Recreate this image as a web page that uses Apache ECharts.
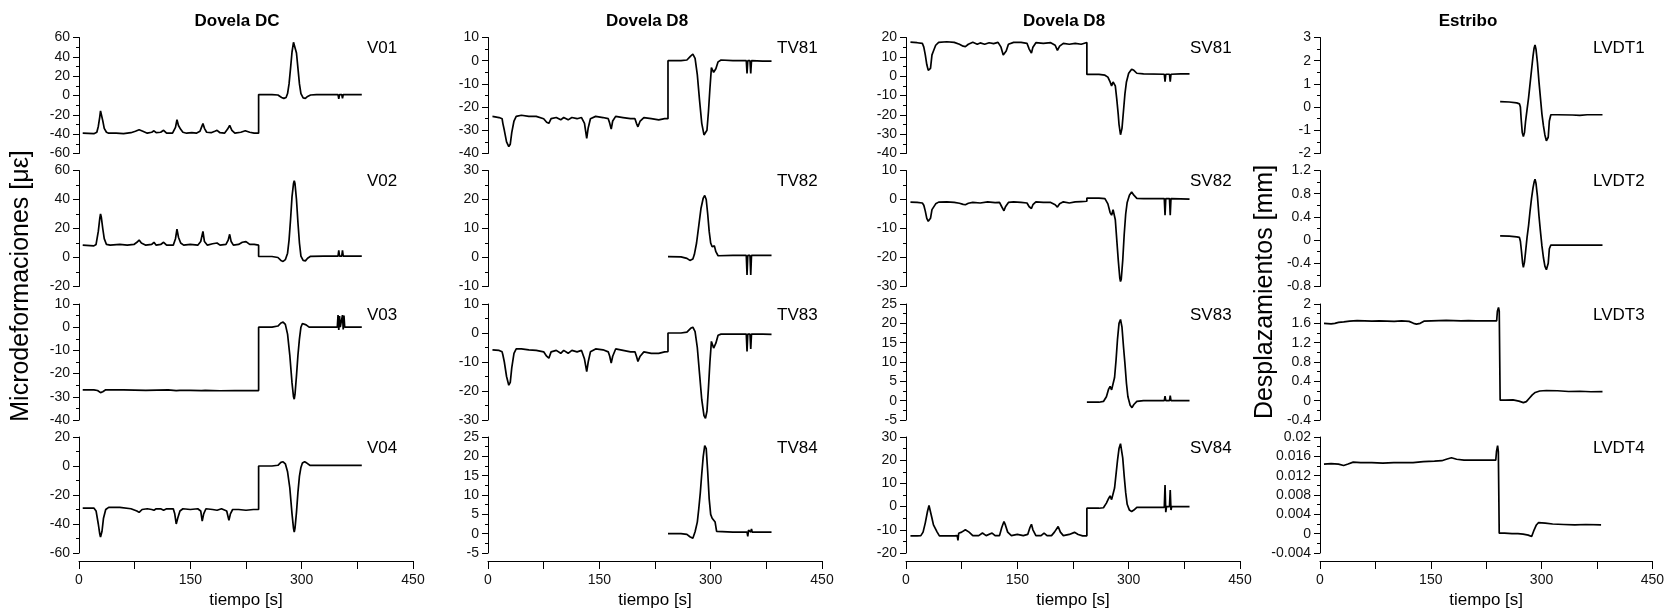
<!DOCTYPE html>
<html>
<head>
<meta charset="utf-8">
<script src="https://cdn.jsdelivr.net/npm/echarts@6/dist/echarts.min.js"></script>
<style>html,body{margin:0;padding:0;background:#fff}#c{width:1667px;height:615px}</style>
</head>
<body>
<div id="c"></div>
<script>
// ---------- DATA: [time s, value] ----------
const V01 = [[5,-39],[20,-39.5],[24,-38],[26,-32],[28,-22],[29,-16],[30,-17],[32,-26],[34,-34],[37,-38],[40,-39],[50,-39],[60,-39.5],[70,-38.5],[76,-37],[81,-35.5],[86,-37],[92,-39],[98,-38],[101,-36.5],[104,-38.5],[110,-38],[114,-36],[118,-39],[126,-39],[130,-33],[132,-25],[134,-31],[137,-35],[140,-38],[145,-39],[152,-38.5],[158,-39],[163,-37],[165,-33],[167,-29],[169,-34],[172,-38],[178,-38.5],[183,-37],[186,-36],[190,-38.5],[196,-39],[200,-35],[203,-31],[206,-36],[210,-39],[218,-38],[224,-36.5],[230,-38],[236,-39],[242,-39],[242,1],[260,1],[268,0.5],[273,-2],[276,-3],[279,-2],[281,2],[283,12],[285,28],[287,45],[289,55],[290,57],[291,55],[293,44],[295,28],[297,12],[299,2],[302,-2.5],[305,-3],[308,-1],[312,0.5],[320,1],[340,1],[349,1],[350,-3.5],[351,1],[354,1],[355,-3],[356,1],[370,1],[381,1]];
const V02 = [[5,8.5],[20,8],[23,9],[26,18],[28,27],[29,30],[30,28],[32,20],[34,13],[37,9],[42,8.5],[55,9],[65,8.5],[74,9],[78,10.5],[81,12],[84,10],[90,8.5],[98,9],[101,10.5],[104,8.5],[110,9],[114,10.5],[118,8.5],[127,8.5],[130,13],[132,19.5],[134,14],[137,10],[141,8.5],[150,9],[160,8.5],[164,11],[167,18],[169,11],[173,8.5],[180,9.5],[186,10],[190,8.5],[198,9],[201,12],[203,16],[205,11],[208,8.5],[215,9],[220,10.5],[225,11],[230,9],[236,9],[242,8.5],[242,0.7],[260,0.7],[268,0],[272,-2],[275,-2.7],[278,-1.5],[281,3],[283,12],[285,26],[287,42],[289,51],[290,53],[291,51],[293,40],[295,24],[297,10],[299,1],[302,-2],[305,-2.3],[308,-0.5],[312,0.8],[330,1],[349,1],[350,5],[351,1],[354,1],[355,5],[356,1],[370,1],[381,1]];
const V03 = [[5,-27],[20,-27],[25,-27.3],[29,-28.2],[32,-27.8],[36,-27],[60,-27],[90,-27.2],[120,-27],[131,-27.3],[133,-27.8],[136,-27.2],[150,-27.2],[165,-27.3],[167,-27.8],[170,-27.2],[190,-27.4],[210,-27.3],[230,-27.3],[242,-27.3],[242,0],[260,0],[268,0.5],[272,1.8],[275,2.2],[278,1.2],[281,-3],[284,-12],[287,-24],[289,-30],[290,-31],[291,-29],[293,-21],[295,-12],[297,-5],[299,0],[301,1.6],[303,2],[306,1],[310,0],[330,0],[348,0],[349,5.2],[350,-1.2],[351,4.8],[352,0],[354,0.5],[355,5.2],[356,-1],[357,5],[358,0],[370,0],[381,0]];
const V04 = [[5,-29],[20,-29],[23,-31],[26,-40],[28,-47],[29,-49],[31,-45],[33,-36],[36,-30],[40,-28.5],[55,-28.5],[70,-29.5],[78,-31],[81,-32],[85,-30],[92,-29.5],[98,-30],[101,-30.5],[104,-29.5],[110,-29.5],[114,-30.5],[118,-29.5],[127,-29.5],[129,-33],[131,-40],[133,-36],[136,-31],[140,-29.5],[150,-30],[160,-29.5],[164,-31],[166,-38],[168,-33],[171,-29.5],[180,-30],[186,-30.5],[192,-29.5],[199,-31],[202,-37.5],[204,-33],[207,-30],[215,-30],[225,-30.5],[235,-30],[242,-30],[242,0],[260,0],[268,0.5],[272,2.5],[275,2.9],[278,1.5],[281,-4],[284,-15],[287,-33],[289,-43],[290,-45.5],[291,-43],[293,-32],[295,-18],[297,-7],[299,-1],[301,2],[304,2.9],[307,2],[311,0.5],[330,0.5],[360,0.5],[381,0.5]];

const TV81 = [[6,-24],[15,-24.5],[19,-25],[20,-27],[22,-30],[25,-35],[28,-37],[30,-36],[32,-31],[35,-26],[38,-24],[45,-23.5],[55,-24],[65,-24],[75,-25],[79,-26.5],[82,-27],[85,-25],[92,-24.5],[98,-25.5],[102,-24.5],[108,-25.5],[113,-24.5],[120,-25],[126,-24.5],[130,-27],[133,-33.5],[135,-29],[138,-25],[145,-24],[155,-24.5],[162,-25],[164,-27],[166,-29.5],[168,-26],[172,-24],[182,-24.5],[192,-25],[198,-25],[200,-27],[202,-28.5],[205,-26],[210,-24.5],[220,-25],[230,-25.5],[238,-25],[242.5,-25],[242.5,0],[260,0],[268,0.3],[273,2],[276,2.8],[279,1],[282,-6],[285,-17],[288,-27],[291,-32],[293,-32.5],[295,-30],[297,-22],[299,-12],[301,-3],[302,-2.5],[304,-5],[307,-3.5],[310,-0.5],[314,0.3],[330,0],[348,0],[349,-5.5],[350,0],[353,0],[354,-5.5],[355,0],[370,-0.2],[382,-0.2]];
const TV82 = [[242.5,0.3],[260,0.2],[268,-0.3],[272,-1],[274,-1.4],[276,-0.5],[278,1],[281,5],[284,11],[287,17],[290,20.5],[292,21.4],[294,20],[296,15],[298,9],[300,5],[302,3.7],[305,4],[307,2],[310,0.6],[330,0.7],[348,0.7],[349,-6],[350,0.7],[353,0.7],[354,-6],[355,0.7],[370,0.7],[382,0.7]];
const TV83 = [[6,-5.8],[15,-6],[19,-6.5],[20,-7.5],[22,-10],[25,-15],[28,-18],[30,-17],[32,-12],[35,-7],[38,-5.5],[45,-5.5],[55,-5.8],[65,-6],[75,-6.5],[79,-8],[82,-8.7],[85,-6.5],[92,-6],[98,-7],[102,-6],[108,-7],[113,-6],[120,-6.5],[126,-6],[130,-9],[133,-13.3],[135,-10],[138,-6.5],[145,-5.5],[155,-5.8],[162,-6.5],[164,-8],[166,-10.4],[168,-8],[172,-5.5],[182,-6],[192,-6.5],[198,-6.5],[200,-8],[202,-9.8],[205,-8],[210,-6.5],[220,-7],[230,-7],[238,-6.5],[242.5,-6.4],[242.5,0],[260,0],[268,0.3],[273,1.6],[276,2],[279,0.5],[282,-5],[285,-14],[288,-23],[291,-28.5],[293,-29.4],[295,-27],[297,-19],[299,-10],[301,-2.9],[302,-3],[304,-5.2],[307,-3.5],[310,-0.8],[314,-0.4],[330,-0.4],[348,-0.4],[349,-6.4],[350,-0.4],[353,-0.4],[354,-5.5],[355,-0.4],[370,-0.4],[382,-0.5]];
const TV84 = [[242.5,0],[260,0],[268,-0.2],[272,-0.8],[276,-1.2],[279,0.5],[282,3],[284,6.5],[286,10.5],[288,15.5],[290,20],[292,22.8],[293,23.1],[294,22],[296,16],[298,9],[300,5],[302,4],[304,4.3],[306,3],[308,0.6],[330,0.4],[349,0.4],[350,-0.7],[351,0.9],[354,0.4],[355,1.2],[356,0.4],[370,0.4],[382,0.4]];

const SV81 = [[6,17.6],[15,17.3],[22,17],[24,15],[26,11],[28,6],[30,3],[32,2.4],[33,4],[35,11],[37,13],[40,16],[44,17.5],[55,17.8],[65,17.5],[72,16.5],[77,15.5],[80,15.3],[84,16.5],[90,17.5],[96,16.5],[100,17.2],[106,16.5],[112,17.3],[118,16.8],[124,17.5],[128,15],[131,11],[133,10.2],[135,13],[138,16.5],[145,17.5],[155,17.5],[163,17],[166,14],[169,11.9],[171,15],[175,17.3],[185,17],[195,17.3],[201,16],[204,13.3],[207,15.5],[212,17],[220,16.5],[228,17],[236,16.5],[243.7,17.4],[243.7,0.9],[260,0.9],[268,0.5],[272,-0.5],[275,-3],[277,-5],[279,-3],[280,-2],[282,-5],[284,-12],[286,-20],[287,-25],[289,-30.3],[291,-27],[293,-18],[295,-9],[297,-3],[300,1.5],[304,3.6],[307,3],[311,1.5],[320,1.2],[348,1],[349,-2.8],[350,1],[355,1],[356,-2.8],[357,1],[370,1.2],[382,1.2]];
const SV82 = [[6,-0.9],[15,-1],[22,-1.2],[24,-2],[26,-4],[28,-6.5],[30,-7.5],[32,-7.7],[33,-6.5],[35,-3.5],[37,-3],[40,-1.5],[44,-0.9],[55,-0.8],[65,-1],[72,-1.3],[77,-1.7],[80,-1.8],[84,-1.3],[90,-1],[100,-1.2],[110,-0.8],[120,-1.1],[126,-1],[129,-2.5],[132,-3.9],[134,-2.5],[138,-1],[145,-0.8],[155,-1],[163,-1.2],[166,-2.5],[169,-3.1],[171,-1.8],[175,-0.8],[185,-1],[195,-1],[201,-1.8],[204,-2.6],[207,-1.5],[212,-0.8],[220,-1.2],[228,-0.8],[236,-0.7],[243.7,-0.6],[243.7,0.5],[260,0.5],[268,0.3],[272,-1.5],[275,-4.5],[277,-5.4],[279,-3.5],[280,-3.1],[282,-7],[284,-14],[286,-21],[288,-27],[289,-28.3],[290,-27.5],[292,-21],[294,-12],[296,-5],[298,-1],[301,1.5],[304,2.6],[307,1.5],[311,0.4],[320,0.3],[348,0.3],[349,-5.4],[350,0.3],[355,0.3],[356,-5.4],[357,0.3],[370,0.2],[382,0.1]];
const SV83 = [[243.7,-0.4],[260,-0.4],[266,-0.2],[270,1],[273,3],[275,3.7],[277,2.8],[279,3.2],[281,6],[283,10.5],[285,16],[287,20],[289,21],[291,19],[293,14],[295,9.5],[297,4.5],[299,1],[302,-1.2],[304.5,-1.8],[307,-1],[311,-0.2],[320,0],[348,0],[349,1.2],[350,0],[355,0],[356,1.3],[357,0],[370,0],[382,0]];
const SV84 = [[6,-12.6],[15,-12.6],[20,-12.5],[23,-11],[26,-7],[29,-2],[31,0.5],[32,1],[33,0],[35,-5],[37,-7.9],[39,-8.5],[42,-11],[45,-12.6],[55,-12.6],[65,-12.6],[69,-12.5],[70,-14.6],[71,-11.5],[75,-11],[80,-10],[85,-11],[90,-12.5],[98,-12.5],[103,-11.4],[108,-12.5],[116,-11.4],[120,-12.5],[126,-12.5],[129,-9],[132,-6.4],[134,-8],[137,-11],[142,-12.5],[150,-12],[158,-12.5],[164,-12],[167,-9],[169,-7.6],[171,-10],[175,-12.5],[182,-12.5],[186,-11.4],[190,-12.5],[196,-12.5],[200,-11],[205,-8.6],[208,-11],[212,-12.5],[220,-12],[227,-11.1],[232,-12],[238,-12.6],[243.7,-12.6],[243.7,-0.7],[260,-0.7],[266,-0.5],[270,1.5],[273,3.5],[275,4.6],[277,3],[279,3.5],[281,8],[283,14],[285,20],[287,25],[289,27.1],[290,26.5],[292,21],[294,13],[296,6],[298,1],[301,-1.5],[304,-2.1],[307,-1.5],[311,-0.3],[320,-0.3],[348,-0.3],[349,9.3],[350,-2.4],[351,0],[355,0],[356,7.1],[357,-1.5],[358,0],[370,0],[382,0]];

const LVDT1 = [[242.7,0.24],[255,0.22],[265,0.18],[268.7,0.14],[270,0],[271,-0.5],[272.5,-1.1],[274,-1.27],[275.5,-1.1],[277,-0.6],[279,-0.1],[281,0.4],[283,1.0],[285,1.6],[287,2.2],[288.5,2.55],[289.7,2.68],[291,2.5],[293,1.9],[295,1.1],[297,0.4],[299,-0.3],[301,-0.8],[303,-1.2],[305,-1.45],[306,-1.52],[307.5,-1.3],[309,-0.6],[311,-0.33],[320,-0.33],[340,-0.34],[350,-0.36],[360,-0.33],[380.6,-0.33]];
const LVDT2 = [[242.7,0.074],[255,0.07],[265,0.055],[268.7,0.046],[270,-0.02],[271.5,-0.2],[273,-0.4],[274,-0.47],[275.5,-0.38],[277,-0.2],[279,0.05],[281,0.25],[283,0.5],[285,0.72],[287,0.9],[288.5,1.0],[289.7,1.05],[291,0.98],[293,0.75],[295,0.42],[297,0.15],[299,-0.1],[301,-0.3],[303,-0.45],[305,-0.51],[306,-0.53],[307.5,-0.4],[309,-0.15],[311,-0.086],[320,-0.085],[340,-0.085],[360,-0.087],[380.6,-0.086]];
const LVDT3 = [[5.4,1.6],[15,1.59],[20,1.6],[25,1.62],[32,1.63],[40,1.645],[50,1.655],[60,1.65],[70,1.645],[80,1.65],[90,1.645],[100,1.64],[110,1.65],[120,1.64],[126,1.6],[130,1.585],[135,1.6],[140,1.645],[150,1.65],[160,1.655],[170,1.66],[180,1.655],[190,1.65],[200,1.655],[210,1.65],[220,1.65],[230,1.65],[238,1.65],[239,1.85],[240.5,1.93],[241.5,1.85],[242.7,0.01],[250,0.01],[260,0.015],[268,-0.01],[274,-0.04],[278,-0.02],[282,0.05],[286,0.12],[290,0.17],[296,0.2],[305,0.21],[320,0.205],[335,0.19],[350,0.195],[365,0.185],[380.6,0.186]];
const LVDT4 = [[5.4,0.0144],[15,0.0145],[25,0.0144],[32,0.0141],[38,0.0144],[45,0.0148],[55,0.0147],[70,0.0147],[85,0.0146],[100,0.0147],[115,0.0147],[126,0.0147],[140,0.0149],[155,0.015],[165,0.0151],[171,0.0154],[178,0.0157],[185,0.0154],[195,0.0152],[205,0.0152],[216,0.0152],[225,0.0152],[238,0.0152],[239,0.017],[240.5,0.0182],[241.5,0.017],[242.7,0.0001],[250,0.0001],[260,0],[268,0],[275,-0.0001],[282,-0.0003],[286.6,-0.0006],[290,0.0008],[293,0.0018],[296,0.0023],[305,0.0022],[315,0.002],[330,0.0019],[345,0.0018],[360,0.0019],[380.6,0.0018]];

// axis ranges [min, max, interval] per panel
const panelNames = ['V01','V02','V03','V04','TV81','TV82','TV83','TV84','SV81','SV82','SV83','SV84','LVDT1','LVDT2','LVDT3','LVDT4'];
const panelData = [V01,V02,V03,V04,TV81,TV82,TV83,TV84,SV81,SV82,SV83,SV84,LVDT1,LVDT2,LVDT3,LVDT4];
const yRanges = [[-60,60,20],[-20,60,20],[-40,10,10],[-60,20,20],
                 [-40,10,10],[-10,30,10],[-30,10,10],[-5,25,5],
                 [-40,20,10],[-30,10,10],[-5,25,5],[-20,30,10],
                 [-2,3,1],[-0.8,1.2,0.4],[-0.4,2,0.4],[-0.004,0.02,0.004]];
const columnTitles = ['Dovela DC','Dovela D8','Dovela D8','Estribo'];
const xTickLabels = [0,150,300,450];

// ---------- LAYOUT ----------
const colLeft = [79, 488, 906, 1320];
const colWidth = 334;
const rowTop = [37.5, 170.5, 304, 437];
const rowHeight = 116;
const labelX = [367, 777, 1190, 1593];
const titleX = [237, 647, 1064, 1468];
const FONT = '"Liberation Sans", Arial, sans-serif';

const grids = [], xAxes = [], yAxes = [], series = [], graphics = [];
panelNames.forEach((name, i) => {
  const col = Math.floor(i / 4), row = i % 4;
  grids.push({left: colLeft[col], top: rowTop[row], width: colWidth, height: rowHeight});
  const bottom = row === 3;
  xAxes.push({
    type: 'value', gridIndex: i, min: 0, max: 450, interval: 75, show: bottom,
    position: 'bottom', offset: 8,
    axisLine: {show: true, onZero: false, lineStyle: {color: '#000', width: 1}},
    axisTick: {show: true, length: 8, lineStyle: {color: '#000'}},
    splitLine: {show: false},
    axisLabel: {fontFamily: FONT, fontSize: 14, color: '#111', margin: 12,
      formatter: v => xTickLabels.indexOf(v) >= 0 ? String(v) : ''},
    name: bottom ? 'tiempo [s]' : '', nameLocation: 'middle', nameGap: 31,
    nameTextStyle: {fontFamily: FONT, fontSize: 17, color: '#000'}
  });
  const [mn, mx, iv] = yRanges[i];
  const dec = iv < 0.01 ? 3 : 2;
  yAxes.push({
    type: 'value', gridIndex: i, min: mn, max: mx, interval: iv,
    axisLine: {show: true, onZero: false, lineStyle: {color: '#000', width: 1}},
    axisTick: {show: true, length: 6, lineStyle: {color: '#000'}},
    minorTick: {show: true, splitNumber: 2, length: 3, lineStyle: {color: '#000'}},
    splitLine: {show: false},
    axisLabel: {fontFamily: FONT, fontSize: 14, color: '#111', margin: 9,
      formatter: v => String(+v.toFixed(dec))}
  });
  series.push({
    type: 'line', xAxisIndex: i, yAxisIndex: i, data: panelData[i],
    showSymbol: false, symbol: 'none', animation: false,
    lineStyle: {color: '#000', width: 1.7}
  });
  graphics.push({type: 'text', x: labelX[col], y: rowTop[row] + 11,
    style: {text: name, font: '17px ' + FONT, fill: '#000', textAlign: 'left', textVerticalAlign: 'middle'}});
});
columnTitles.forEach((t, c) => {
  graphics.push({type: 'text', x: titleX[c], y: 21,
    style: {text: t, font: 'bold 17px ' + FONT, fill: '#000', textAlign: 'center', textVerticalAlign: 'middle'}});
});
graphics.push({type: 'text', x: 21, y: 286, rotation: Math.PI / 2,
  style: {text: 'Microdeformaciones [με]', font: '25px ' + FONT, fill: '#000', textAlign: 'center', textVerticalAlign: 'middle'}});
graphics.push({type: 'text', x: 1265, y: 292, rotation: Math.PI / 2,
  style: {text: 'Desplazamientos [mm]', font: '25px ' + FONT, fill: '#000', textAlign: 'center', textVerticalAlign: 'middle'}});

const chart = echarts.init(document.getElementById('c'), null, {renderer: 'canvas'});
chart.setOption({
  animation: false,
  backgroundColor: '#fff',
  grid: grids, xAxis: xAxes, yAxis: yAxes, series: series, graphic: graphics
});
</script>
</body>
</html>
